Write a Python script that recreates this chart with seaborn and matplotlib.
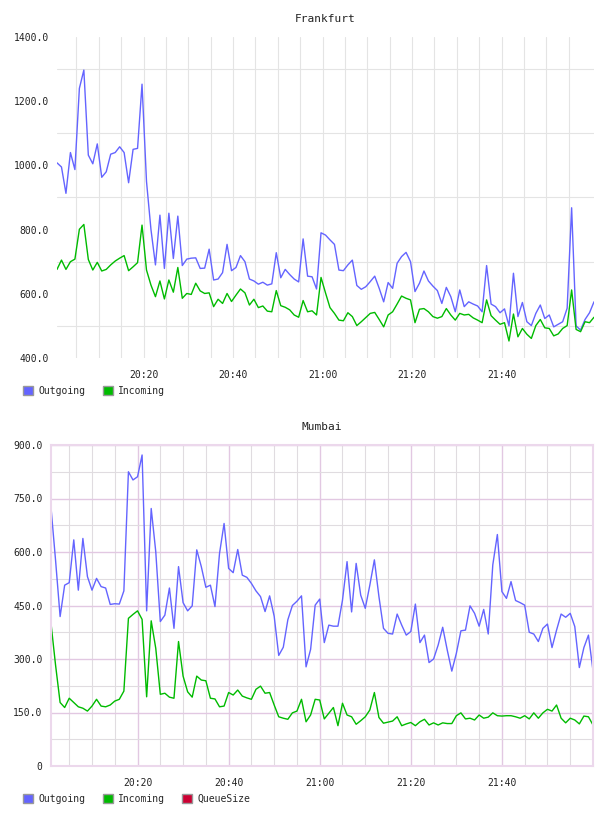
import numpy as np
import pandas as pd
import seaborn as sns
import matplotlib.pyplot as plt
import matplotlib.dates as mdates
from matplotlib.patches import Patch
from matplotlib.ticker import FixedLocator, FuncFormatter

# values, one per minute
fra_outgoing = [1008, 995, 913, 1040, 987, 1240, 1297, 1032, 1005, 1067, 963, 980, 1035, 1040, 1058, 1040, 946, 1050, 1053, 1253,
                950, 800, 690, 845, 679, 851, 710, 842, 688, 708, 711, 712, 679, 680, 739, 643, 646, 666, 754, 672,
                682, 719, 700, 646, 640, 630, 636, 627, 631, 728, 650, 676, 660, 646, 637, 771, 655, 653, 615, 790,
                783, 768, 754, 674, 672, 690, 705, 626, 614, 622, 638, 655, 617, 575, 635, 617, 695, 716, 729, 700,
                607, 633, 671, 640, 624, 610, 570, 620, 591, 544, 612, 560, 575, 568, 562, 544, 688,
                568, 560, 541, 553, 500, 664, 529, 573, 513, 501, 539, 565, 523, 534, 497, 505, 513, 555, 868, 500, 487, 520, 541, 575]
fra_incoming = [676, 705, 676, 700, 708, 801, 816, 707, 674, 698, 671, 676, 690, 702, 711, 719, 672, 684, 697, 814,
                674, 627, 591, 640, 584, 643, 605, 682, 586, 601, 598, 633, 609, 601, 603, 560, 583, 570, 601, 576,
                596, 615, 603, 565, 583, 557, 562, 546, 544, 610, 563, 558, 550, 534, 527, 579, 544, 547, 534, 651,
                603, 557, 539, 518, 516, 541, 529, 501, 513, 526, 539, 542, 520, 497, 534, 544, 568, 593, 586, 581,
                510, 552, 554, 544, 529, 524, 529, 554, 534, 518, 539, 534, 536, 525, 518, 510, 581,
                532, 518, 505, 510, 453, 537, 466, 492, 474, 461, 501, 520, 494, 492, 469, 475, 492, 501, 612, 489, 482, 513, 510, 527]

bom_outgoing = [725, 577, 419, 507, 514, 634, 493, 638, 531, 493, 526, 503, 499, 453, 455, 454, 491, 825, 802, 811,
                872, 435, 722, 601, 405, 423, 499, 386, 559, 458, 435, 449, 606, 559, 501, 507, 447, 596, 680, 554,
                542, 607, 535, 529, 512, 491, 475, 433, 477, 420, 310, 333, 410, 450, 462, 477, 278, 327, 451, 468,
                346, 395, 392, 392, 465, 573, 432, 568, 479, 442, 507, 578, 475, 386, 372, 370, 426, 395, 367, 377,
                454, 346, 367, 290, 300, 339, 389, 325, 266, 316, 379, 381, 449, 428, 392, 439, 370, 564, 649, 489,
                470, 517, 464, 458, 451, 375, 370, 349, 386, 398, 332, 381, 426, 417, 428, 391, 276, 332, 367, 267]
bom_incoming = [400, 283, 178, 164, 190, 178, 166, 162, 154, 168, 187, 168, 166, 171, 182, 187, 210, 414, 425, 435,
                411, 194, 407, 330, 201, 204, 193, 190, 349, 252, 208, 193, 252, 241, 239, 190, 188, 166, 168, 206,
                199, 213, 196, 191, 187, 215, 224, 204, 206, 171, 138, 134, 131, 149, 154, 187, 124, 143, 187, 185,
                132, 148, 164, 113, 176, 143, 138, 117, 127, 138, 157, 206, 136, 120, 123, 126, 138, 113, 118, 122,
                113, 124, 131, 115, 121, 115, 121, 119, 119, 141, 149, 132, 134, 129, 143, 134, 137, 149, 141, 140,
                141, 141, 138, 134, 141, 132, 149, 134, 149, 159, 154, 171, 134, 121, 134, 129, 118, 140, 138, 115]
bom_queue = [0] * len(bom_outgoing)

fra_start = "2024-01-01 20:00:40"
bom_start = "2024-01-01 20:01:00"
time_labels = ["20:20", "20:40", "21:00", "21:20", "21:40"]

colors = {"Outgoing": "#6464ff", "Incoming": "#00bb00", "QueueSize": "#cc0033"}
MONO = ["DejaVu Sans Mono"]


def make_df(start, series):
    t = pd.date_range(start, periods=len(next(iter(series.values()))), freq="min")
    frames = [pd.DataFrame({"time": t, "value": v, "series": k}) for k, v in series.items()]
    return pd.concat(frames, ignore_index=True)


def style_axis(ax, df, ymin, ymax, ymajor, yminor, major_grid, minor_grid, border, last_minor):
    t0, t1 = df["time"].min(), df["time"].max()
    ax.set_xlim(t0, t1)
    ax.set_ylim(ymin, ymax)
    day = t0.normalize()
    major_t = [day + pd.Timedelta(hours=int(s[:2]), minutes=int(s[3:])) for s in time_labels]
    minor_t = pd.date_range(day + pd.Timedelta(hours=20, minutes=5), day + pd.Timedelta(last_minor), freq="5min")
    minor_t = [m for m in minor_t if m not in major_t]
    ax.xaxis.set_major_locator(FixedLocator(mdates.date2num(major_t)))
    ax.xaxis.set_minor_locator(FixedLocator(mdates.date2num(minor_t)))
    ax.xaxis.set_major_formatter(mdates.DateFormatter("%H:%M"))
    ax.yaxis.set_major_locator(FixedLocator(ymajor))
    ax.yaxis.set_minor_locator(FixedLocator(yminor))
    ax.yaxis.set_major_formatter(FuncFormatter(lambda v, p: "0" if v == 0 else "%.1f" % v))
    ax.tick_params(which="both", length=0, labelsize=7, colors="#222222")
    ax.tick_params(axis="y", pad=6)
    ax.tick_params(axis="x", pad=9)
    for lab in ax.get_xticklabels() + ax.get_yticklabels():
        lab.set_family(MONO)
    ax.grid(False)
    ax.set_axisbelow(True)
    if major_grid:
        ax.grid(True, which="major", color=major_grid, linewidth=1.0)
    if minor_grid:
        ax.grid(True, which="minor", color=minor_grid, linewidth=0.8)
    for s in ax.spines.values():
        if border:
            s.set_visible(True)
            s.set_color(border)
            s.set_linewidth(1.5)
        else:
            s.set_visible(False)
    ax.set_xlabel("")
    ax.set_ylabel("")


sns.set_style("white")
plt.rcParams["font.family"] = ["DejaVu Sans Mono", "DejaVu Sans"]

fig = plt.figure(figsize=(6.08, 8.16), dpi=100)

# Frankfurt
ax1 = fig.add_axes([57 / 608, 1 - 358 / 816, 537 / 608, 321 / 816])
df1 = make_df(fra_start, {"Outgoing": fra_outgoing, "Incoming": fra_incoming})
sns.lineplot(data=df1, x="time", y="value", hue="series", palette=colors, ax=ax1,
             legend=False, linewidth=1.0)
style_axis(ax1, df1, 400, 1400, [400, 600, 800, 1000, 1200, 1400], [500, 700, 900, 1100, 1300],
           None, "#e4e4e4", None, "21:55:00")
ax1.grid(True, which="major", axis="x", color="#e4e4e4", linewidth=0.8)
ax1.set_title("Frankfurt", fontsize=8, family=MONO, color="#222222", pad=11)

# Mumbai
ax2 = fig.add_axes([51 / 608, 1 - 766 / 816, 542 / 608, 321 / 816])
df2 = make_df(bom_start, {"Outgoing": bom_outgoing, "Incoming": bom_incoming, "QueueSize": bom_queue})
sns.lineplot(data=df2, x="time", y="value", hue="series", palette=colors, ax=ax2,
             legend=False, linewidth=1.0)
style_axis(ax2, df2, 0, 900, [0, 150, 300, 450, 600, 750, 900], [75, 225, 375, 525, 675, 825],
           "#e2c8e2", "#e0dce0", "#ecd8ec", "21:55:00")
ax2.set_title("Mumbai", fontsize=8, family=MONO, color="#222222", pad=11)


def add_legend(names, y_px):
    handles = [Patch(facecolor=colors[n], edgecolor="#999999", linewidth=1.0) for n in names]
    fig.legend(handles, names, loc="upper left", bbox_to_anchor=(23 / 608, 1 - y_px / 816),
               ncol=len(names), frameon=False, handlelength=1.05, handleheight=1.05,
               handletextpad=0.55, columnspacing=1.75, borderpad=0, borderaxespad=0,
               prop={"family": MONO, "size": 7})


add_legend(["Outgoing", "Incoming"], 386)
add_legend(["Outgoing", "Incoming", "QueueSize"], 794)

fig.savefig("out.png", dpi=100)
